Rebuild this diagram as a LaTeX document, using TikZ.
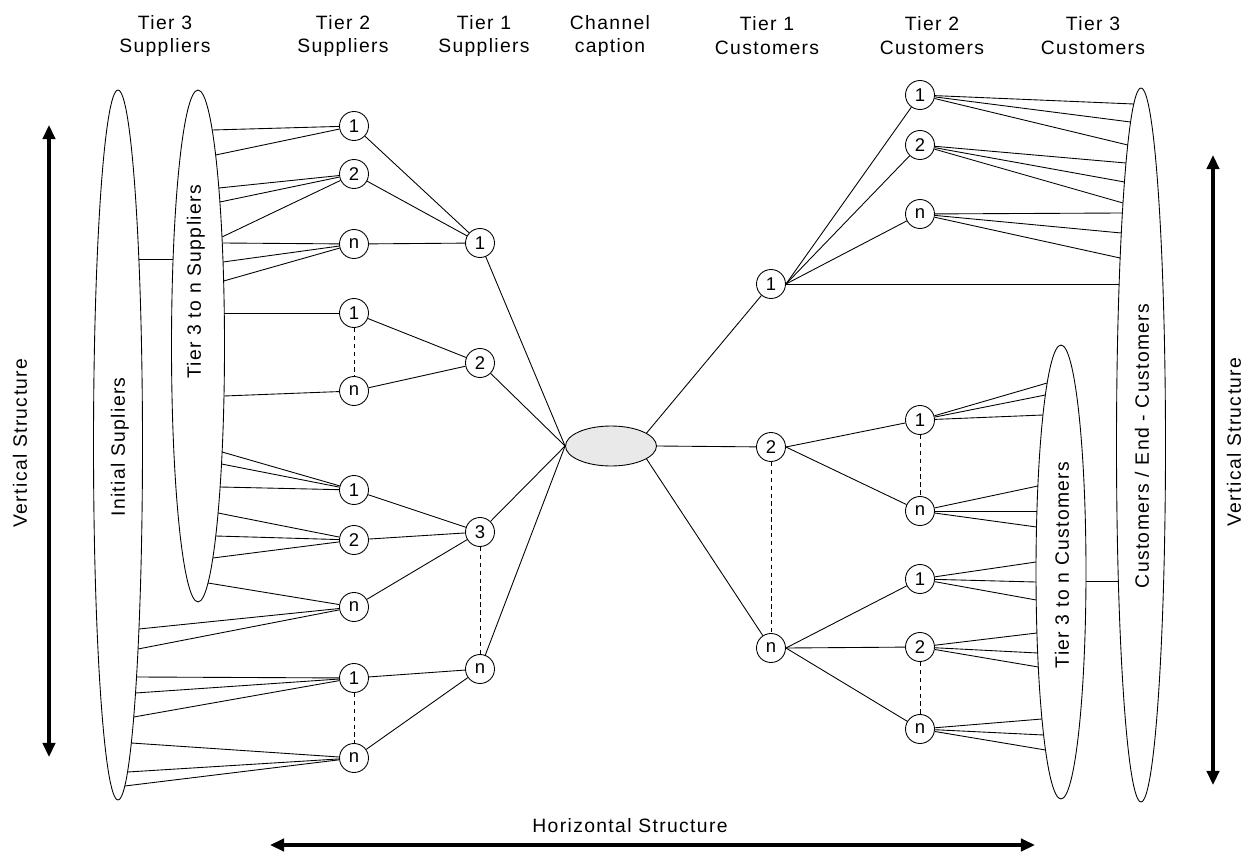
\documentclass[tikz,border=0pt]{standalone}
\usepackage{fontspec}
\setmainfont{Liberation Sans}[LetterSpace=7]
\usetikzlibrary{shapes.geometric,arrows.meta}

\begin{document}
\begin{tikzpicture}[x=0.02cm,y=-0.02cm,line width=0.5pt,
    every node/.style={font=\fontsize{11}{13.6}\selectfont},
    num/.style={circle,draw,fill=white,minimum size=0.58cm,inner sep=0pt,font=\fontsize{10.5}{12}\selectfont},
    group/.style={ellipse,draw,inner sep=0pt},
    dots/.style={dash pattern=on 2.5pt off 2pt},
    axis/.style={line width=2.4pt,{Triangle[length=8pt,width=7pt]}-{Triangle[length=8pt,width=7pt]}}]
    \useasboundingbox (0,0) rectangle (1249,852);

                \node[align=center] (h-t3s) at (165,36) {Tier 3\\Suppliers};
                \node[align=center] (h-t2s) at (343,36) {Tier 2\\Suppliers};
                \node[align=center] (h-t1s) at (484,36) {Tier 1\\Suppliers};
                \node[align=center] (h-chan) at (610,36) {Channel\\caption};
                \node[align=center] (h-t1c) at (767,36) {Tier 1\\Customers};
                \node[align=center] (h-t2c) at (932,36) {Tier 2\\Customers};
                \node[align=center] (h-t3c) at (1093,36) {Tier 3\\Customers};

                \node[group,minimum width=0.98cm,minimum height=14.2cm] (init) at (118,445) {};
                \node[group,minimum width=1.06cm,minimum height=10.24cm] (t3sup) at (198,346) {};
                \node[group,minimum width=0.98cm,minimum height=14.28cm] (endc) at (1141,445) {};
                \node[group,minimum width=1.0cm,minimum height=9.08cm] (t3cus) at (1061,572) {};
                \node[group,fill=gray!17,minimum width=1.82cm,minimum height=0.8cm] (chan) at (611,446) {};

                \node[rotate=90] (l-init) at (120,447) {Initial Supliers};
                \node[rotate=90] (l-t3sup) at (196,282) {Tier 3 to n Suppliers};
                \node[rotate=90] (l-endc) at (1142,446) {Customers / End - Customers};
                \node[rotate=90] (l-t3cus) at (1062,565) {Tier 3 to n Customers};
                \node[rotate=90] (l-vl) at (20,443) {Vertical Structure};
                \node[rotate=90] (l-vr) at (1234,442) {Vertical Structure};
                \node (l-hz) at (630,826) {Horizontal Structure};

                \coordinate (vl-top) at (49,125);
                \coordinate (vl-bot) at (49,757);
                \coordinate (vr-top) at (1213,155);
                \coordinate (vr-bot) at (1213,785);
                \coordinate (hz-l) at (270,845);
                \coordinate (hz-r) at (1035,845);
                \draw[axis] (vl-top) -- (vl-bot);
                \draw[axis] (vr-top) -- (vr-bot);
                \draw[axis] (hz-l) -- (hz-r);

                \node[num] (s1) at (354,126) {1};
                \node[num] (s2) at (354,174) {2};
                \node[num] (s3) at (354,244) {n};
                \node[num] (s4) at (354,313) {1};
                \node[num] (s5) at (354,391) {n};
                \node[num] (s6) at (354,490) {1};
                \node[num] (s7) at (354,540) {2};
                \node[num] (s8) at (354,607) {n};
                \node[num] (s9) at (354,678) {1};
                \node[num] (s10) at (354,758) {n};

                \node[num] (t1) at (480,243) {1};
                \node[num] (t2) at (480,363) {2};
                \node[num] (t3) at (480,532) {3};
                \node[num] (t4) at (480,669) {n};

                \node[num] (c1) at (771,284) {1};
                \node[num] (c2) at (771,447) {2};
                \node[num] (c3) at (771,648) {n};

                \node[num] (d1) at (920,95) {1};
                \node[num] (d2) at (920,145) {2};
                \node[num] (d3) at (920,214) {n};
                \node[num] (d4) at (920,420) {1};
                \node[num] (d5) at (920,511) {n};
                \node[num] (d6) at (920,579) {1};
                \node[num] (d7) at (920,647) {2};
                \node[num] (d8) at (920,729) {n};

                \foreach \n/\yy [count=\i] in {s1/130,s1/155,s2/188,s2/202,s2/237,s3/243,s3/262,s3/281,
                    s4/313,s5/396,s6/452,s6/464,s6/487,s7/513,s7/536,s7/558,s8/583}
                    {\coordinate (a\i) at ({198+26.5*sqrt(1-((\yy-346)/256)*((\yy-346)/256))},\yy);
                     \draw (a\i) -- (\n);}
                \foreach \n/\yy [count=\i] in {s8/629,s8/649,s9/677,s9/693,s9/717,s10/743,s10/772,s10/786}
                    {\coordinate (b\i) at ({118+24.5*sqrt(1-((\yy-445)/355)*((\yy-445)/355))},\yy);
                     \draw (b\i) -- (\n);}
                \foreach \n/\yy [count=\i] in {d1/104,d1/122,d1/145,d2/163,d2/182,d2/203,d3/213,d3/233,d3/258}
                    {\coordinate (e\i) at ({1141-24.5*sqrt(1-((\yy-445)/357)*((\yy-445)/357))},\yy);
                     \draw (e\i) -- (\n);}
                \foreach \n/\yy [count=\i] in {d4/383,d4/395,d4/415,d5/486,d5/511,d5/527,d6/562,d6/582,d6/600,
                    d7/633,d7/653,d7/667,d8/719,d8/735,d8/750}
                    {\coordinate (f\i) at ({1061-25*sqrt(1-((\yy-572)/227)*((\yy-572)/227))},\yy);
                     \draw (f\i) -- (\n);}

                \coordinate (init-r) at ({118+24.5*sqrt(1-((259-445)/355)*((259-445)/355))},259);
                \coordinate (t3sup-l) at ({198-26.5*sqrt(1-((259-346)/256)*((259-346)/256))},259);
                \draw (init-r) -- (t3sup-l);
                \coordinate (t3cus-r) at ({1061+25*sqrt(1-((581-572)/227)*((581-572)/227))},581);
                \coordinate (endc-l) at ({1141-24.5*sqrt(1-((581-445)/357)*((581-445)/357))},581);
                \draw (t3cus-r) -- (endc-l);
                \coordinate (endc-c1) at ({1141-24.5*sqrt(1-((284-445)/357)*((284-445)/357))},284);
                \draw (c1.east) -- (endc-c1);

                \draw (s1) -- (t1);
                \draw (s2) -- (t1);
                \draw (s3) -- (t1);
                \draw (s4) -- (t2);
                \draw (s5) -- (t2);
                \draw (s6) -- (t3);
                \draw (s7) -- (t3);
                \draw (s8) -- (t3);
                \draw (s9) -- (t4);
                \draw (s10) -- (t4);

                \draw (t1) -- (chan.west);
                \draw (t2) -- (chan.west);
                \draw (t3) -- (chan.west);
                \draw (t4) -- (chan.west);
                \draw (chan.20) -- (c1);
                \draw (chan.east) -- (c2);
                \draw (chan.-20) -- (c3);

                \draw (c1.east) -- (d1);
                \draw (c1.east) -- (d2);
                \draw (c1.east) -- (d3);
                \draw (c2.east) -- (d4);
                \draw (c2.east) -- (d5);
                \draw (c3.east) -- (d6);
                \draw (c3.east) -- (d7);
                \draw (c3.east) -- (d8);

                \draw[dots] (s4) -- (s5);
                \draw[dots] (s9) -- (s10);
                \draw[dots] (t3) -- (t4);
                \draw[dots] (c2) -- (c3);
                \draw[dots] (d4) -- (d5);
                \draw[dots] (d7) -- (d8);
            \end{tikzpicture}
\end{document}
